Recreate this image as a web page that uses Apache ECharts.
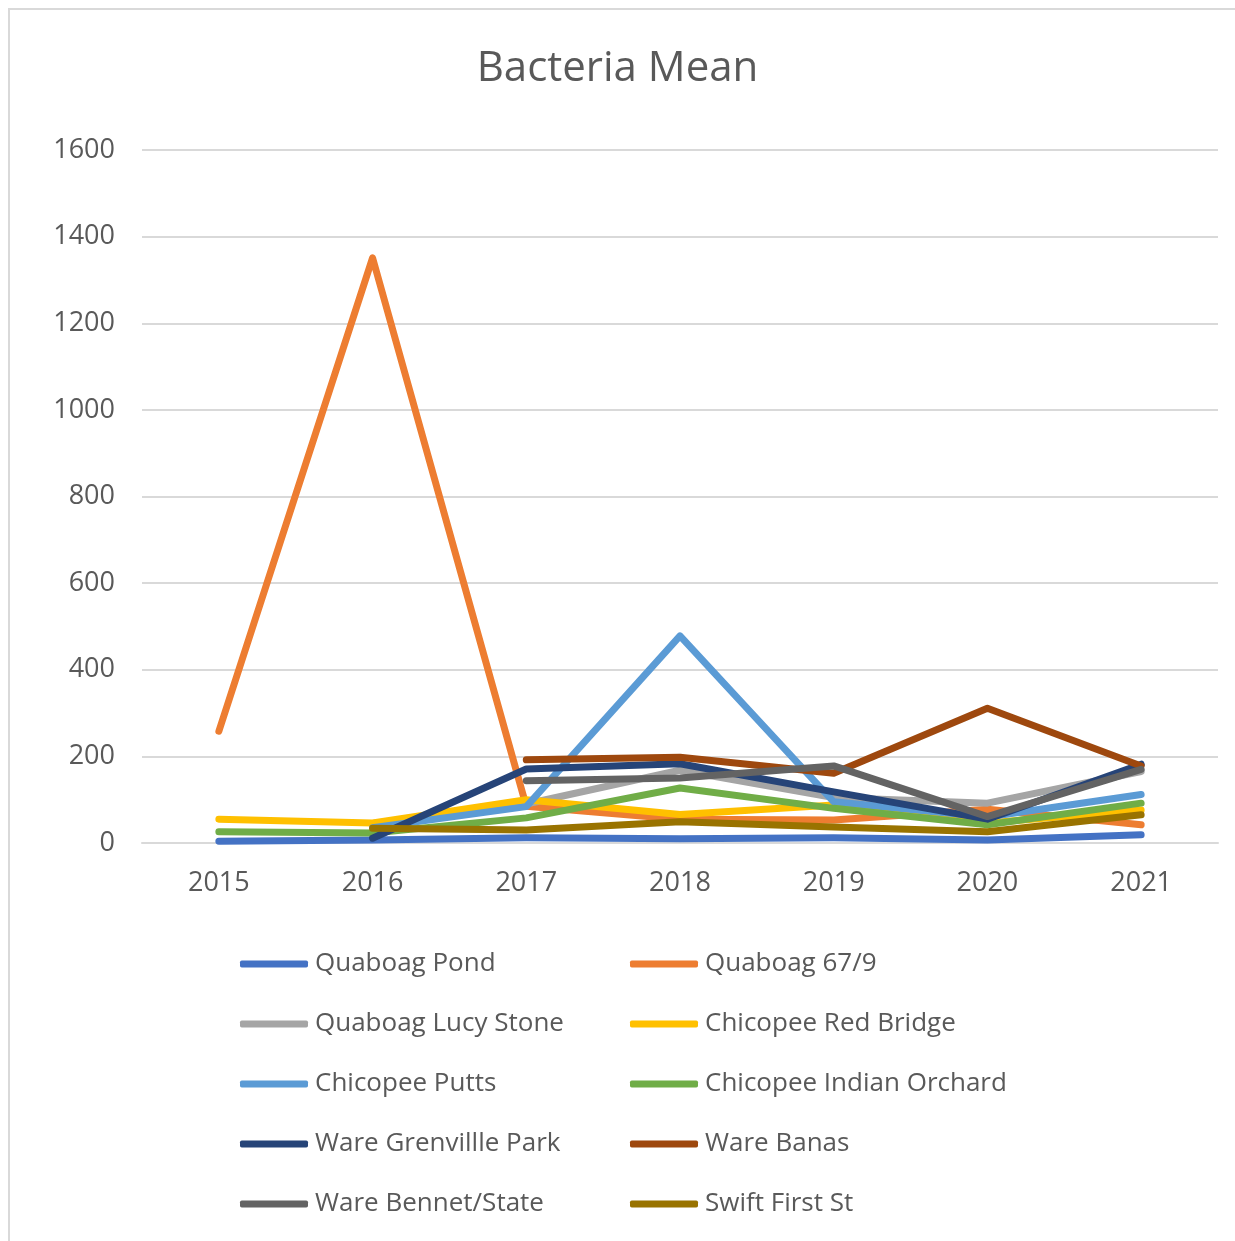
<!DOCTYPE html>
<html>
<head>
<meta charset="utf-8">
<script src="https://cdn.jsdelivr.net/npm/echarts@6/dist/echarts.min.js"></script>
<style>
html,body{margin:0;padding:0;background:#fff;}
#chart{width:1235px;height:1241px;}
</style>
</head>
<body>
<div id="chart"></div>
<script>
const years = ['2015','2016','2017','2018','2019','2020','2021'];
const yTicks = [0, 200, 400, 600, 800, 1000, 1200, 1400, 1600];

const quaboagPond      = [4, 7, 12, 10, 12, 7, 19];
const quaboag679       = [258, 1351, 85, 55, 53, 78, 42];
const quaboagLucyStone = [null, 45, 90, 168, 105, 92, 165];
const chicopeeRedBridge= [55, 46, 100, 66, 88, 46, 76];
const chicopeePutts    = [null, 35, 84, 478, 95, 60, 112];
const chicopeeIndian   = [26, 23, 58, 127, 80, 42, 92];
const wareGrenville    = [null, 11, 171, 183, 118, 55, 182];
const wareBanas        = [null, null, 192, 198, 161, 311, 178];
const wareBennet       = [null, null, 144, 150, 178, 61, 170];
const swiftFirst       = [null, 34, 30, 49, 37, 26, 65];

const seriesNames = ['Quaboag Pond','Quaboag 67/9','Quaboag Lucy Stone','Chicopee Red Bridge','Chicopee Putts','Chicopee Indian Orchard','Ware Grenvillle Park','Ware Banas','Ware Bennet/State','Swift First St'];
const seriesData = [quaboagPond, quaboag679, quaboagLucyStone, chicopeeRedBridge, chicopeePutts, chicopeeIndian, wareGrenville, wareBanas, wareBennet, swiftFirst];
const colors = ['#4472C4','#ED7D31','#A5A5A5','#FFC000','#5B9BD5','#70AD47','#264478','#9E480E','#636363','#997300'];

const FONT = '"Open Sans", "Noto Sans", sans-serif';
const chart = echarts.init(document.getElementById('chart'));

const legendCommon = {
  orient: 'vertical',
  icon: 'roundRect',
  itemWidth: 68,
  itemHeight: 7,
  itemGap: 30,
  textStyle: {fontFamily: FONT, fontSize: 26, color: '#595959', lineHeight: 30, padding: [0,0,0,2]},
  top: 944
};

chart.setOption({
  animation: false,
  backgroundColor: '#fff',
  color: colors,
  title: {
    text: 'Bacteria Mean',
    left: 'center',
    top: 43,
    textStyle: {fontFamily: FONT, fontSize: 42, fontWeight: 'normal', color: '#595959'}
  },
  graphic: [{
    type: 'rect',
    shape: {x: 9, y: 9, width: 1260, height: 1260},
    style: {fill: 'none', stroke: '#d9d9d9', lineWidth: 2},
    silent: true
  }],
  legend: [
    Object.assign({}, legendCommon, {left: 235, data: seriesNames.filter((n,i)=>i%2===0)}),
    Object.assign({}, legendCommon, {left: 625, data: seriesNames.filter((n,i)=>i%2===1)})
  ],
  grid: {left: 142, right: 17, top: 150, bottom: 398, containLabel: false},
  xAxis: {
    type: 'category',
    data: years,
    boundaryGap: true,
    axisLine: {lineStyle: {color: '#d9d9d9', width: 2}},
    axisTick: {show: false},
    axisLabel: {fontFamily: FONT, fontSize: 27, color: '#595959', margin: 27}
  },
  yAxis: {
    type: 'value',
    min: yTicks[0],
    max: yTicks[yTicks.length-1],
    interval: 200,
    axisLine: {show: false},
    axisTick: {show: false},
    splitLine: {lineStyle: {color: '#d9d9d9', width: 2}},
    axisLabel: {fontFamily: FONT, fontSize: 27, color: '#595959', margin: 27, formatter: v => String(v)}
  },
  series: seriesNames.map((name, i) => ({
    name: name,
    type: 'line',
    data: seriesData[i],
    showSymbol: false,
    symbol: 'none',
    lineStyle: {width: 7, cap: 'round', join: 'round', color: colors[i]},
    itemStyle: {color: colors[i]}
  }))
});
</script>
</body>
</html>
